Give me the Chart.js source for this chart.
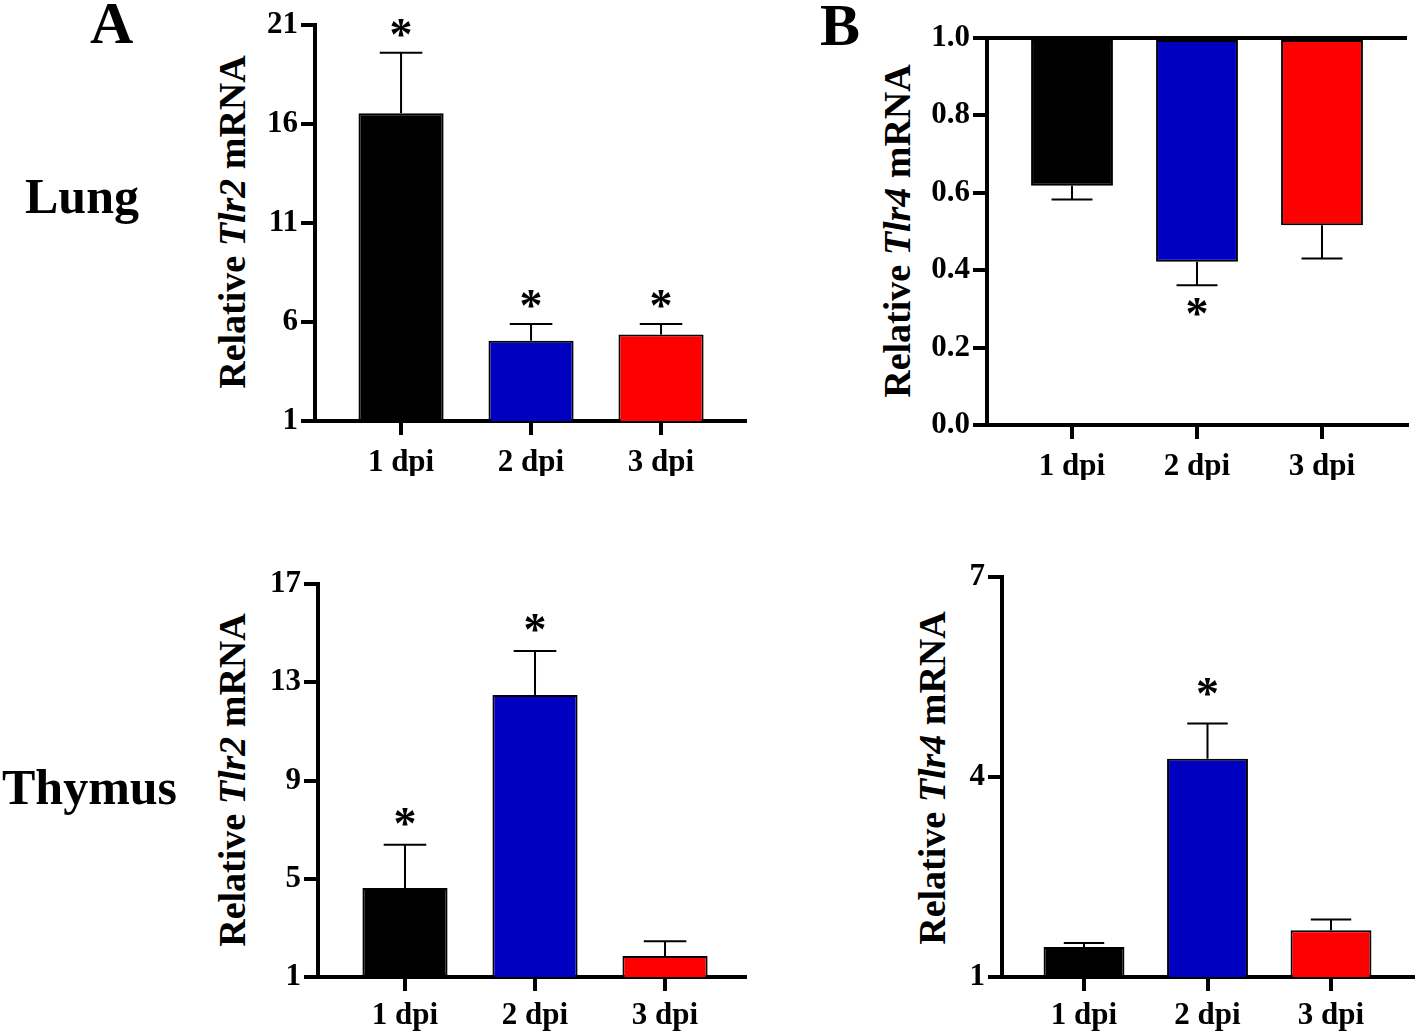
<!DOCTYPE html>
<html>
<head>
<meta charset="utf-8">
<script src="https://cdn.jsdelivr.net/npm/chart.js@4.4.0/dist/chart.umd.min.js"></script>
<style>
  html, body { margin:0; padding:0; background:#fff; }
  body { width:1416px; height:1035px; position:relative; overflow:hidden; font-family:"Liberation Serif", "Times New Roman", serif; color:#000; }
  .box { position:absolute; }
  .lbl { position:absolute; font-weight:bold; line-height:1; white-space:nowrap; }
  .ytitle { position:absolute; font-weight:bold; font-size:38px; line-height:1; white-space:nowrap;
            transform:translate(-50%,-50%) rotate(-90deg); }
</style>
</head>
<body>
<div class="lbl" style="left:90px;top:-7px;font-size:60px">A</div>
<div class="lbl" style="left:820px;top:-5px;font-size:60px">B</div>
<div class="lbl" style="left:25px;top:171px;font-size:50px">Lung</div>
<div class="lbl" style="left:2px;top:762px;font-size:50px">Thymus</div>

<div class="ytitle" style="left:232px;top:222px">Relative <i>Tlr2</i> mRNA</div>
<div class="ytitle" style="left:897px;top:231px">Relative <i>Tlr4</i> mRNA</div>
<div class="ytitle" style="left:232px;top:780px">Relative <i>Tlr2</i> mRNA</div>
<div class="ytitle" style="left:932px;top:778px">Relative <i>Tlr4</i> mRNA</div>

<canvas id="lungTlr2" class="box"></canvas>
<canvas id="lungTlr4" class="box"></canvas>
<canvas id="thymTlr2" class="box"></canvas>
<canvas id="thymTlr4" class="box"></canvas>

<script>
// categories + colours
const dpiLabels = ['1 dpi', '2 dpi', '3 dpi'];
const barColors = ['#000000', '#0000c0', '#ff0000'];

// Lung, Tlr2
const lungTlr2Mean  = [16.54, 5.05, 5.37];
const lungTlr2Sem   = [3.06, 0.85, 0.53];
const lungTlr2Star  = [true, true, true];
const lungTlr2Ticks = [1, 6, 11, 16, 21];

// Lung, Tlr4 (bars hang down from 1.0)
const lungTlr4Mean  = [0.618, 0.422, 0.516];
const lungTlr4Sem   = [0.035, 0.061, 0.086];
const lungTlr4Star  = [false, true, false];
const lungTlr4Ticks = [0, 0.2, 0.4, 0.6, 0.8, 1.0];

// Thymus, Tlr2
const thymTlr2Mean  = [4.62, 12.48, 1.85];
const thymTlr2Sem   = [1.76, 1.79, 0.61];
const thymTlr2Star  = [true, true, false];
const thymTlr2Ticks = [1, 5, 9, 13, 17];

// Thymus, Tlr4
const thymTlr4Mean  = [1.45, 4.27, 1.70];
const thymTlr4Sem   = [0.06, 0.53, 0.16];
const thymTlr4Star  = [false, true, false];
const thymTlr4Ticks = [1, 4, 7];

const FONT = '"Liberation Serif", "Times New Roman", serif';

// error bars, asterisks and optional reference line, drawn in data space
const errorBars = {
  id: 'errorBars',
  afterDatasetsDraw(chart, args, o) {
    const { ctx, chartArea, scales: { y } } = chart;
    const meta = chart.getDatasetMeta(0);
    ctx.save();
    ctx.strokeStyle = '#000'; ctx.fillStyle = '#000'; ctx.lineWidth = 2;
    ctx.font = 'bold 46px ' + FONT;
    ctx.textAlign = 'center'; ctx.textBaseline = 'alphabetic';
    const mt = ctx.measureText('*');
    const mid = (mt.actualBoundingBoxAscent - mt.actualBoundingBoxDescent) / 2;
    meta.data.forEach((bar, i) => {
      const y0 = y.getPixelForValue(o.mean[i]);
      const y1 = y.getPixelForValue(o.mean[i] + o.dir * o.sem[i]);
      const half = bar.width / 4;
      ctx.beginPath();
      ctx.moveTo(bar.x, y0); ctx.lineTo(bar.x, y1);
      ctx.moveTo(bar.x - half, y1); ctx.lineTo(bar.x + half, y1);
      ctx.stroke();
      if (o.star[i]) ctx.fillText('*', bar.x, y1 - o.dir * o.gap + mid);
    });
    if (o.refLine != null) {
      const yr = y.getPixelForValue(o.refLine);
      ctx.lineWidth = 4;
      ctx.beginPath(); ctx.moveTo(chartArea.left - 2, yr); ctx.lineTo(chartArea.right, yr); ctx.stroke();
    }
    ctx.restore();
  }
};

function panel(id, c) {
  const el = document.getElementById(id);
  el.style.left = c.box[0] + 'px'; el.style.top = c.box[1] + 'px';
  el.width = c.box[2]; el.height = c.box[3];
  el.style.width = c.box[2] + 'px'; el.style.height = c.box[3] + 'px';
  const tickFont = { family: FONT, size: 31, weight: 'bold' };
  return new Chart(el, {
    type: 'bar',
    data: { datasets: [{
      data: c.mean.map((v, i) => ({ x: i + 1, y: v })),
      backgroundColor: barColors, borderColor: '#000', borderWidth: 2, borderSkipped: false,
      base: c.base, barPercentage: 1, categoryPercentage: 0.655
    }]},
    options: {
      responsive: false, animation: false, events: [],
      layout: { padding: c.pad },
      plugins: { legend: { display: false }, tooltip: { enabled: false },
        errorBars: { mean: c.mean, sem: c.sem, star: c.star, dir: c.dir, gap: c.gap, refLine: c.refLine } },
      scales: {
        x: { type: 'linear', min: c.xr[0], max: c.xr[1], z: 1, offset: false,
          afterBuildTicks: s => { s.ticks = dpiLabels.map((_, i) => ({ value: i + 1 })); },
          afterFit: s => { s.height = 55; },
          border: { color: '#000', width: 4 },
          grid: { offset: false, drawOnChartArea: false, color: '#000', lineWidth: 4, tickLength: 14 },
          ticks: { color: '#000', font: tickFont, padding: c.xPad, autoSkip: false, maxRotation: 0,
                   callback: v => dpiLabels[v - 1] } },
        y: { min: c.ticks[0], max: c.ticks[c.ticks.length - 1], z: 1,
          afterBuildTicks: s => { s.ticks = c.ticks.map(v => ({ value: v })); },
          afterFit: s => { s.width = 70; },
          border: { color: '#000', width: 4 },
          grid: { drawOnChartArea: false, color: '#000', lineWidth: 4, tickLength: 14 },
          ticks: { color: '#000', font: tickFont, padding: 3, callback: v => c.fmt(v) } }
      }
    },
    plugins: [errorBars]
  });
}

const intFmt = v => String(v);

panel('lungTlr2', { box: [240, 0, 520, 490], pad: { left: 5, right: 15, top: 25, bottom: 14 },
  xr: [0.338, 3.646], mean: lungTlr2Mean, sem: lungTlr2Sem, star: lungTlr2Star, ticks: lungTlr2Ticks,
  dir: 1, gap: 25, xPad: 9, fmt: intFmt });

panel('lungTlr4', { box: [905, 0, 511, 490], pad: { left: 12, right: 9, top: 38, bottom: 10 },
  xr: [0.32, 3.68], mean: lungTlr4Mean, sem: lungTlr4Sem, star: lungTlr4Star, ticks: lungTlr4Ticks,
  dir: -1, gap: 22, base: 1, refLine: 1, xPad: 9, fmt: v => v.toFixed(1) });

panel('thymTlr2', { box: [240, 555, 520, 480], pad: { left: 8, right: 15, top: 29, bottom: 3 },
  xr: [0.331, 3.615], mean: thymTlr2Mean, sem: thymTlr2Sem, star: thymTlr2Star, ticks: thymTlr2Ticks,
  dir: 1, gap: 28, xPad: 6, fmt: intFmt });

panel('thymTlr4', { box: [920, 555, 496, 480], pad: { left: 12, right: 3, top: 21, bottom: 3 },
  xr: [0.336, 3.664], mean: thymTlr4Mean, sem: thymTlr4Sem, star: thymTlr4Star, ticks: thymTlr4Ticks,
  dir: 1, gap: 36, xPad: 6, fmt: intFmt });
</script>
</body>
</html>
